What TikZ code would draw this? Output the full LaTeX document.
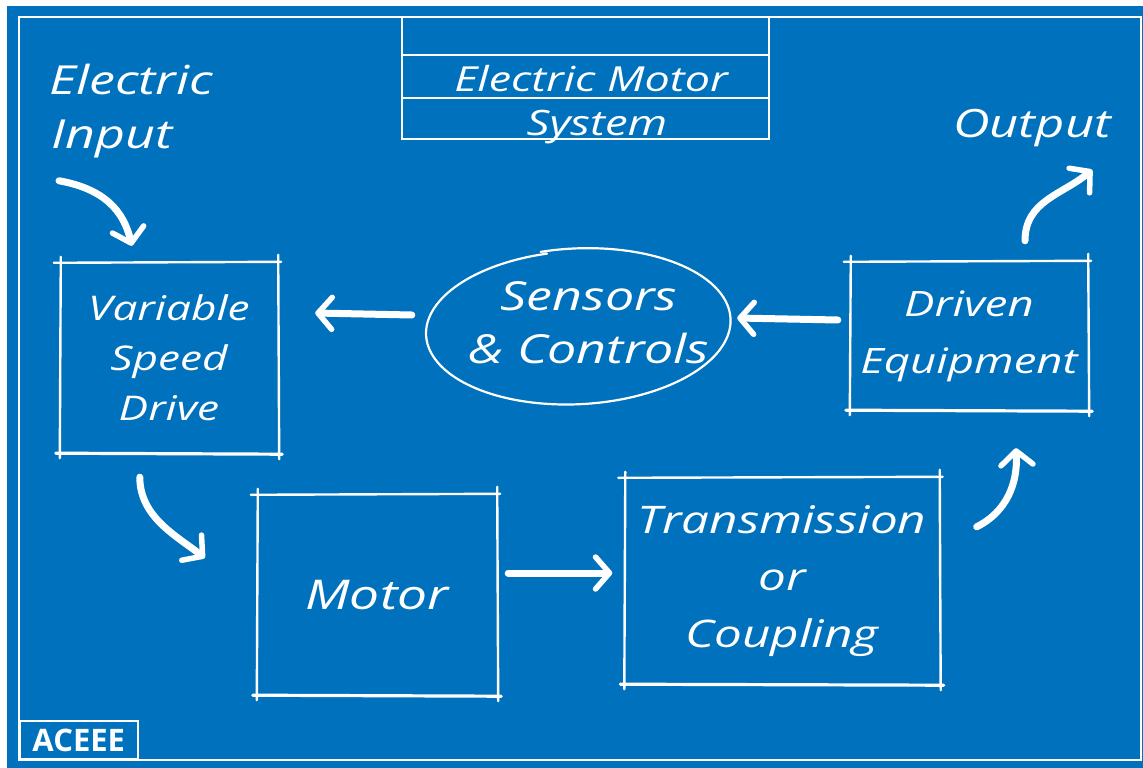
\documentclass[tikz,border=0pt]{standalone}
\usepackage{fontspec}
\usetikzlibrary{arrows.meta,calc,shapes.geometric}
\newfontfamily\hand{Open Sans}[FakeStretch=1.3]
\newfontfamily\logofont{Open Sans}
\definecolor{bp}{RGB}{0,113,188}
\tikzset{
  hw/.style={text=white, inner sep=0pt, font=\hand\itshape\fontsize{#1}{#1}\selectfont},
  hwbox/.style n args={3}{text=white, inner sep=0pt, align=center, minimum width=#2, minimum height=#3,
     font=\hand\itshape\fontsize{#1}{#1}\selectfont},
  sk/.style={draw=white, line width=2.4pt, line cap=round},
  thin/.style={draw=white, line width=1.6pt},
  brush/.style={draw=white, line width=7pt, line cap=round,
     -{Straight Barb[length=14pt,width=32pt,line width=5.5pt,round]}},
}
\newcommand\skbox[1]{%
  \draw[sk] ($(#1.north west)+(-6,0)$) -- ($(#1.north east)+(3,-1)$);
  \draw[sk, line width=3.2pt] ($(#1.south west)+(-4,0)$) -- ($(#1.south east)+(4,1)$);
  \draw[sk] ($(#1.north west)+(1,-6)$) -- ($(#1.south west)+(0,5)$);
  \draw[sk] ($(#1.north east)+(0,-8)$) -- ($(#1.south east)+(1,6)$);
}
\begin{document}
\begin{tikzpicture}[x=1pt,y=-1pt]
\useasboundingbox (0,0) rectangle (1143,768);
\fill[white] (0,0) rectangle (1143,768);
\fill[bp] (7,6) rectangle (1143,768);
\draw[thin] (19,17) rectangle (1141,760);

% title block
\node[thin, draw, minimum width=367, minimum height=122, inner sep=0] (tbox) at (585.5,78) {};
\draw[thin] ($(tbox.north west)+(0,39)$) -- ($(tbox.north east)+(0,39)$);
\draw[thin] ($(tbox.north west)+(0,82)$) -- ($(tbox.north east)+(0,82)$);
\node[hw=34.5, anchor=base] (t1) at (591,92) {Electric Motor};
\node[hw=35, anchor=base] (t2) at (597,135) {System};

% free labels
\node[hw=40, anchor=base west] (inp1) at (49,95) {Electric};
\node[hw=40, anchor=base west] (inp2) at (51,148) {Input};
\node[hw=39, anchor=base west] (out) at (953,137) {Output};

% boxes
\node[hwbox={34}{218}{190}, font=\hand\itshape\fontsize{34}{50}\selectfont] (vsd) at (169,358) {Variable\\Speed\\Drive};
\skbox{vsd}
\node[hwbox={41}{240}{200}] (motor) at (377,595) {Motor};
\skbox{motor}
\node[hwbox={38}{315}{206}, font=\hand\itshape\fontsize{38}{57}\selectfont] (trans) at (782,581) {Transmission\\or\\Coupling};
\skbox{trans}
\node[hwbox={35}{238}{148}, font=\hand\itshape\fontsize{35}{57}\selectfont] (drv) at (969,336) {Driven\\Equipment};
\skbox{drv}

% sensors ellipse
\node[ellipse, minimum width=300, minimum height=152, inner sep=0] (sc) at (577,327) {};
\begin{scope}[shift={(sc.center)}, rotate=3]
\draw[white, line width=2.2pt, line cap=round] plot[domain=100:462, samples=140, smooth]
  ({(1+0.035*(\x-100)/362)*150*cos(\x)}, {-(1+0.035*(\x-100)/362)*76*sin(\x)});
\end{scope}
\node[hwbox={40}{10}{10}, font=\hand\itshape\fontsize{40}{53}\selectfont] (sct) at (589,323) {Sensors\\\& Controls};

% ACEEE
\node[draw=white, line width=1.6pt, minimum width=118, minimum height=38, inner sep=0, anchor=south west,
  text=white, font=\logofont\bfseries\fontsize{31}{31}\selectfont] (logo) at (19,760) {ACEEE};

% arrows
\draw[brush] ($(inp2.south west)+(8,23)$) .. controls +(45,8) and +(-8,-35) .. ($(vsd.north west)+(72,-17)$);
\draw[brush] ($(vsd.south west)+(80,24)$) .. controls +(0,40) and +(-28,-22) .. ($(motor.west)+(-52,-37)$);
\draw[brush] ($(motor.east)+(11,-22)$) -- ($(trans.west)+(-12,-8)$);
\draw[brush] ($(trans.north east)+(37,49)$) .. controls +(30,-15) and +(2,35) .. ($(drv.south)+(47,38)$);
\draw[brush] ($(drv.north)+(56,-21)$) .. controls +(0,-40) and +(-30,25) .. ($(drv.north east)+(4,-92)$);
\draw[brush] ($(drv.west)+(-12,-16)$) -- ($(sc.east)+(10,-9)$);
\draw[brush] ($(sc.west)+(-15,-12)$) -- ($(vsd.east)+(37,-45)$);
\end{tikzpicture}
\end{document}
